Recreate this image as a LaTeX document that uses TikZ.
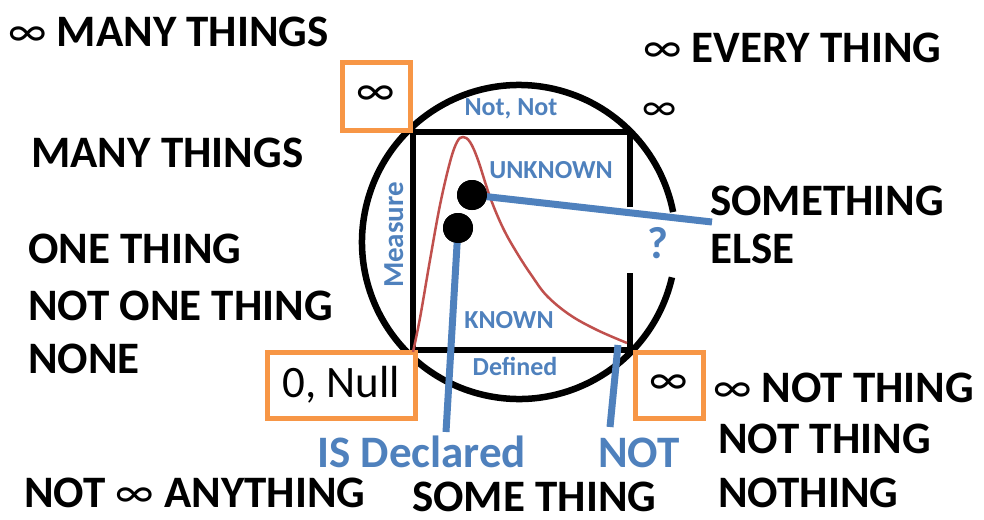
\documentclass[tikz,border=0pt]{standalone}
\usepackage{fontspec}
\setmainfont{Carlito}
\definecolor{myblue}{HTML}{4F81BD}
\definecolor{myorange}{HTML}{F79646}
\definecolor{myred}{HTML}{C0504D}
\newcommand{\myinf}{{\mdseries ∞}}
\begin{document}
\begin{tikzpicture}[x=1pt,y=-1pt,
  big/.style={font=\fontsize{45}{54}\selectfont\bfseries, inner sep=0pt, anchor=base west},
  bigblue/.style={big, text=myblue},
  lbl/.style={font=\fontsize{26}{30}\selectfont\bfseries, text=myblue, inner sep=0pt, anchor=base},
  obox/.style={draw=myorange, line width=5pt, fill=white},
  boxtxt/.style={font=\fontsize{45}{54}\selectfont, inner sep=0pt},
  bline/.style={draw=myblue, line width=7pt},
  dot/.style={circle, fill=black, inner sep=0pt, minimum size=30pt}]
\useasboundingbox[fill=white] (0,0) rectangle (984,519);

% circle with gap on the right
\draw[line width=6.5pt] (519,242) ++(13:157) arc[start angle=13, end angle=349, radius=157];
% square with gap on right side
\draw[line width=6.5pt] (630,207) -- (630,132) -- (413,132) -- (413,350) -- (630,350) -- (630,273);

% orange boxes
\draw[obox] (342,62) rectangle (410,130);
\node[boxtxt] (tlinf) at (376,96) {∞};
\draw[obox] (267,352) rectangle (415,418);
\node[boxtxt] (null) at (341,385) {0, Null};
\draw[obox] (635,352) rectangle (703,418);
\node[boxtxt] (brinf) at (669,385) {∞};

% red curve
\draw[myred, line width=2.5pt] plot[smooth, tension=0.6] coordinates {(413,352) (420,318) (430,260) (440,205) (450,162) (457,142) (463,137) (470,142) (478,160) (490,197) (503,228) (517,253) (532,276) (547,296) (570,315) (597,330) (627,343)};

% inner labels
\node[lbl] (notnot) at (511,115) {Not, Not};
\node[lbl] (unknown) at (551,178) {UNKNOWN};
\node[lbl, rotate=90, font=\fontsize{29}{34}\selectfont\bfseries] (measure) at (403,235) {Measure};
\node[lbl] (known) at (509,328) {KNOWN};
\node[lbl] (defined) at (515,375) {Defined};
\node[font=\fontsize{45}{54}\selectfont\bfseries, text=myblue, inner sep=0pt, anchor=base] (q) at (658,258) {?};

% blue connectors and dots
\coordinate (e1) at (712,222);
\coordinate (e2) at (446,432);
\coordinate (s3) at (618,345);
\coordinate (e3) at (610,427);
\node[dot] (d1) at (472,195) {};
\node[dot] (d2) at (458,228) {};
\draw[bline] (d1.center) -- (e1);
\draw[bline] (d2.center) -- (e2);
\draw[bline] (s3) -- (e3);
\node[dot] at (472,195) {};
\node[dot] at (458,228) {};

% black texts
\node[big] (t1) at (8,47) {\myinf{} MANY THINGS};
\node[big] (t2) at (31,167) {MANY THINGS};
\node[big] (t3) at (28,263) {ONE THING};
\node[big] (t4) at (28,320) {NOT ONE THING};
\node[big] (t5) at (28,373) {NONE};
\node[big] (t6) at (24,507) {NOT \myinf{} ANYTHING};
\node[big] (t7) at (412,511) {SOME THING};
\node[big] (t8) at (643,63) {\myinf{} EVERY THING};
\node[boxtxt, font=\fontsize{40}{48}\selectfont] (t9) at (660,112) {∞};
\node[big] (t10) at (710,215) {SOMETHING};
\node[big] (t11) at (710,263) {ELSE};
\node[big] (t12) at (713,402) {\myinf{} NOT THING};
\node[big] (t13) at (718,453) {NOT THING};
\node[big] (t14) at (718,507) {NOTHING};
\node[bigblue] (t15) at (317,467) {IS Declared};
\node[bigblue] (t16) at (598,467) {NOT};
\end{tikzpicture}
\end{document}
